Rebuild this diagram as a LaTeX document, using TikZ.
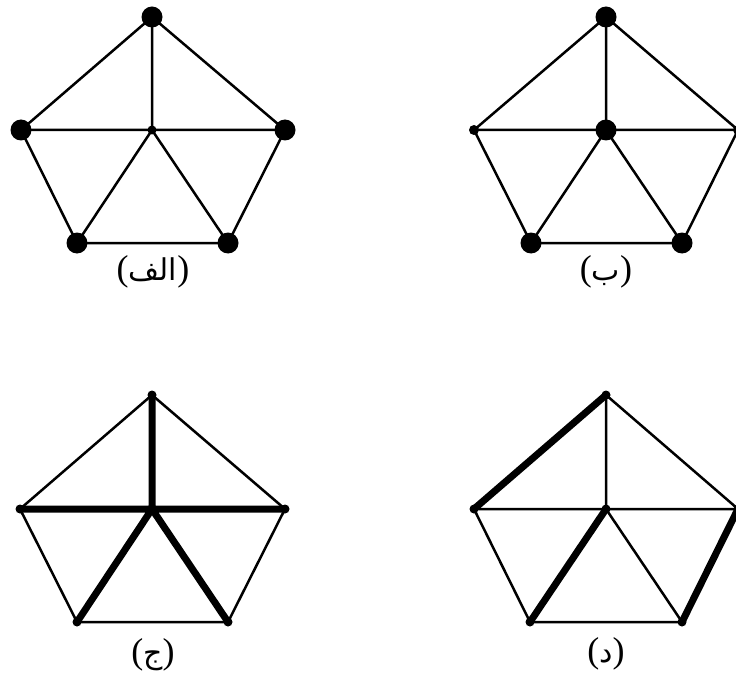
\documentclass[tikz,border=0pt]{standalone}
\usepackage{fontspec}
\setmainfont{Liberation Serif}
\newfontfamily\arabicfont[Script=Arabic]{DejaVu Sans}
\TeXXeTstate=1
\tikzset{
  bigdot/.style={circle,fill=black,inner sep=0pt,minimum size=21pt},
  smalldot/.style={circle,fill=black,inner sep=0pt,minimum size=9pt},
  edge/.style={line width=2.5pt},
  heavy/.style={line width=7pt,line cap=round},
  lab/.style={font=\fontsize{36}{38}\selectfont,inner sep=0pt}
}
\newcommand{\glab}[1]{({\arabicfont\fontsize{30}{32}\selectfont\beginR #1\endR})}
\begin{document}
\begin{tikzpicture}[x=1pt,y=-1pt]
\useasboundingbox (0,0) rectangle (736,679);
% ---------- graph A ----------
\node[bigdot] (aT) at (152,17) {};
\node[bigdot] (aL) at (21,130) {};
\node[smalldot] (aC) at (152,130) {};
\node[bigdot] (aR) at (285,130) {};
\node[bigdot] (aBL) at (77,243) {};
\node[bigdot] (aBR) at (228,243) {};
\draw[edge] (aT.center) -- (aL.center) (aT.center) -- (aC.center) (aT.center) -- (aR.center)
  (aL.center) -- (aC.center) (aC.center) -- (aR.center) (aL.center) -- (aBL.center)
  (aC.center) -- (aBL.center) (aC.center) -- (aBR.center) (aR.center) -- (aBR.center)
  (aBL.center) -- (aBR.center);
\node[lab] (la) at (153,272) {\glab{الف}};
% ---------- graph B ----------
\node[bigdot] (bT) at (606,17) {};
\node[smalldot,minimum size=10pt] (bL) at (474,130) {};
\node[bigdot] (bC) at (606,130) {};
\node[smalldot,minimum size=10pt] (bR) at (738,130) {};
\node[bigdot] (bBL) at (531,243) {};
\node[bigdot] (bBR) at (682,243) {};
\draw[edge] (bT.center) -- (bL.center) (bT.center) -- (bC.center) (bT.center) -- (bR.center)
  (bL.center) -- (bC.center) (bC.center) -- (bR.center) (bL.center) -- (bBL.center)
  (bC.center) -- (bBL.center) (bC.center) -- (bBR.center) (bR.center) -- (bBR.center)
  (bBL.center) -- (bBR.center);
\node[lab] (lb) at (606,272) {\glab{ب}};
% ---------- graph C ----------
\node[smalldot] (cT) at (152,395) {};
\node[smalldot] (cL) at (20,509) {};
\node[smalldot] (cC) at (152,509) {};
\node[smalldot] (cR) at (285,509) {};
\node[smalldot] (cBL) at (77,622) {};
\node[smalldot] (cBR) at (228,622) {};
\draw[edge] (cT.center) -- (cL.center) (cT.center) -- (cR.center)
  (cL.center) -- (cBL.center) (cR.center) -- (cBR.center) (cBL.center) -- (cBR.center);
\draw[heavy] (cT.center) -- (cC.center) (cL.center) -- (cC.center) (cC.center) -- (cR.center)
  (cC.center) -- (cBL.center) (cC.center) -- (cBR.center);
\node[lab] (lc) at (153,655) {\glab{ج}};
% ---------- graph D ----------
\node[smalldot] (dT) at (606,395) {};
\node[smalldot] (dL) at (474,509) {};
\node[smalldot] (dC) at (606,509) {};
\node[smalldot] (dR) at (738,509) {};
\node[smalldot] (dBL) at (530,622) {};
\node[smalldot] (dBR) at (682,622) {};
\draw[edge] (dT.center) -- (dC.center) (dT.center) -- (dR.center)
  (dL.center) -- (dC.center) (dC.center) -- (dR.center) (dL.center) -- (dBL.center)
  (dC.center) -- (dBR.center) (dBL.center) -- (dBR.center);
\draw[heavy] (dT.center) -- (dL.center) (dC.center) -- (dBL.center) (dR.center) -- (dBR.center);
\node[lab] (ld) at (606,654) {\glab{د}};
\end{tikzpicture}
\end{document}
